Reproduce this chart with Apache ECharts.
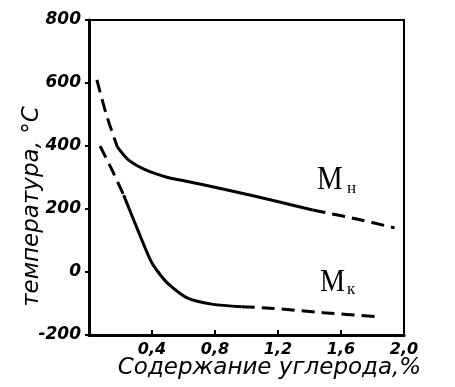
<!DOCTYPE html>
<html><head><meta charset="utf-8">
<script src="https://cdn.jsdelivr.net/npm/echarts@6/dist/echarts.min.js"></script>
<style>html,body{margin:0;padding:0;background:#fff}#c{width:455px;height:387px}</style>
</head><body><div id="c"></div>
<script>
// Mн (start of martensite transformation)
const mnDashStartX = [0.05, 0.11, 0.18];
const mnDashStartY = [610, 500, 397];
const mnSolidX = [0.18, 0.25, 0.36, 0.50, 0.58, 0.90, 1.21, 1.42];
const mnSolidY = [397, 356, 324, 300, 292, 258, 222, 197];
const mnDashEndX = [1.42, 1.7, 1.94];
const mnDashEndY = [197, 168, 140];
// Mк (end of martensite transformation)
const mkDashStartX = [0.07, 0.15, 0.22];
const mkDashStartY = [400, 320, 244];
const mkSolidX = [0.22, 0.31, 0.39, 0.43, 0.50, 0.63, 0.78, 0.97];
const mkSolidY = [244, 133, 38, 6, -36, -84, -102, -110];
const mkDashEndX = [0.97, 1.15, 1.49, 1.83];
const mkDashEndY = [-110, -115, -129, -142];
// axes
const xTicks = [0, 0.4, 0.8, 1.2, 1.6, 2.0];
const yTicks = [-200, 0, 200, 400, 600, 800];
const xTitle = 'Содержание углерода,%';
const yTitle = 'температура, °С';
const labelMn = ['M', 'н'];
const labelMk = ['M', 'к'];

const zip = (xs, ys) => xs.map((x, i) => [x, ys[i]]);
const dash = [13, 7];
function line(xs, ys, dashed) {
  return {
    type: 'line', data: zip(xs, ys), smooth: 0.3, symbol: 'none', silent: true,
    lineStyle: { color: '#000', width: 3, type: dashed ? dash : 'solid', cap: 'butt' }
  };
}
const tickFont = { fontFamily: 'DejaVu Sans', fontStyle: 'italic', fontWeight: 'bold', fontSize: 16, color: '#000' };

const chart = echarts.init(document.getElementById('c'));
chart.setOption({
  animation: false,
  backgroundColor: '#fff',
  grid: { left: 89, top: 20, right: 51, bottom: 52, show: true, borderColor: '#000', borderWidth: 2, backgroundColor: 'transparent' },
  xAxis: {
    type: 'value', min: xTicks[0], max: xTicks[xTicks.length - 1], interval: 0.4,
    name: xTitle, nameLocation: 'middle', nameGap: 22, nameMoveOverlap: false,
    nameTextStyle: { fontFamily: 'DejaVu Sans', fontStyle: 'italic', fontSize: 23, color: '#000', padding: [0, 0, 0, 46] },
    axisLine: { show: true, onZero: false, lineStyle: { color: '#000', width: 3 } },
    axisTick: { show: true, inside: true, length: 5, lineStyle: { color: '#000', width: 2 } },
    splitLine: { show: false },
    axisLabel: Object.assign({ margin: 7, formatter: v => v === 0 ? '' : v.toFixed(1).replace('.', ',') }, tickFont)
  },
  yAxis: {
    type: 'value', min: yTicks[0], max: yTicks[yTicks.length - 1], interval: 200,
    name: yTitle, nameLocation: 'middle', nameGap: 45, nameMoveOverlap: false,
    nameTextStyle: { fontFamily: 'DejaVu Sans', fontStyle: 'italic', fontSize: 23, color: '#000', padding: [0, 58, 0, 0] },
    axisLine: { show: true, onZero: false, lineStyle: { color: '#000', width: 3 } },
    axisTick: { show: true, inside: false, length: 4, lineStyle: { color: '#000', width: 2 } },
    splitLine: { show: false },
    axisLabel: Object.assign({ margin: 8 }, tickFont, { fontSize: 17 })
  },
  series: [
    line(mnDashStartX, mnDashStartY, true),
    line(mnSolidX, mnSolidY, false),
    line(mnDashEndX, mnDashEndY, true),
    line(mkDashStartX, mkDashStartY, true),
    line(mkSolidX, mkSolidY, false),
    line(mkDashEndX, mkDashEndY, true)
  ],
  graphic: [
    { type: 'text', left: 317, top: 163, style: { text: labelMn[0], font: '34px "Liberation Serif"', fill: '#000' }, scaleX: 0.85 },
    { type: 'text', left: 347, top: 180, style: { text: labelMn[1], font: '17px "Liberation Serif"', fill: '#000' } },
    { type: 'text', left: 320, top: 267, style: { text: labelMk[0], font: '32px "Liberation Serif"', fill: '#000' }, scaleX: 0.88 },
    { type: 'text', left: 347, top: 281, style: { text: labelMk[1], font: '17px "Liberation Serif"', fill: '#000' } }
  ]
});
</script></body></html>
